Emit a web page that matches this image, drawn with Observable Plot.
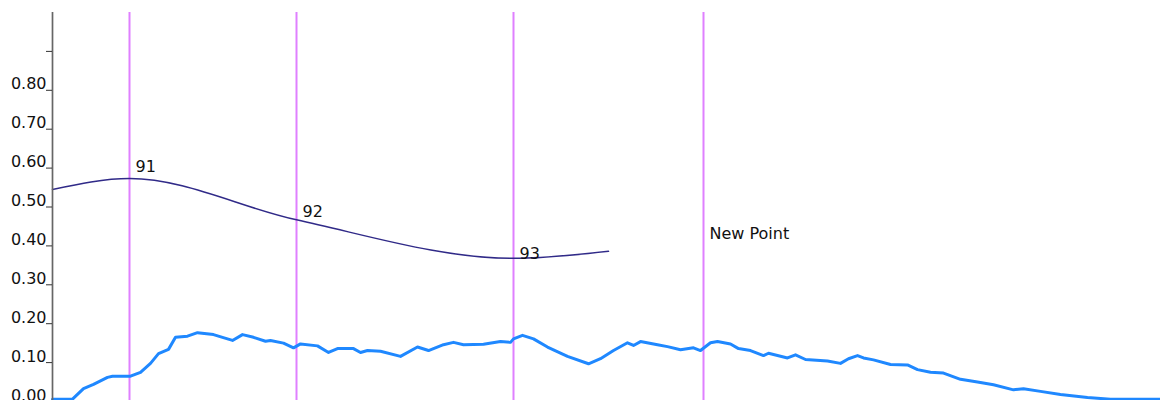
<!DOCTYPE html>
<html>
<head>
<meta charset="utf-8">
<script src="https://cdn.jsdelivr.net/npm/d3@7"></script>
<script src="https://cdn.jsdelivr.net/npm/@observablehq/plot@0.6"></script>
<style>
  html, body { margin: 0; padding: 0; background: #fff; }
  #chart svg { display: block; overflow: visible; }
</style>
</head>
<body>
<div id="chart"></div>
<script>
// Y axis ticks
const yTicks = [0, 0.1, 0.2, 0.3, 0.4, 0.5, 0.6, 0.7, 0.8, 0.9];
const yTickLabels = ["0.00", "0.10", "0.20", "0.30", "0.40", "0.50", "0.60", "0.70", "0.80", ""];

// Vertical markers (x positions)
const markerX = [77, 244, 461, 651];

// Fitted curve through labelled points
const curveX = [0, 77, 244, 461, 556];
const curveY = [0.545, 0.573, 0.467, 0.368, 0.386];

// Point labels
const labelText = ["91", "92", "93", "New Point"];
const labelX = [77, 244, 461, 651];
const labelY = [0.591, 0.474, 0.367, 0.418];

// Measured series
const seriesX = [0, 20, 31, 41, 55, 60, 78, 88, 98, 106, 116, 123, 135, 145, 161, 170, 180, 190, 201, 213,
  218, 231, 241, 248, 265, 276, 285, 301, 308, 315, 328, 348, 365, 376, 391, 401, 411, 431, 448, 458,
  461, 470, 481, 495, 515, 536, 548, 561, 575, 581, 588, 605, 615, 628, 641, 648, 658, 665, 678, 686,
  698, 711, 716, 735, 743, 753, 775, 788, 796, 805, 811, 821, 838, 855, 865, 878, 891, 908, 925, 941,
  961, 971, 988, 1008, 1035, 1058, 1108];
const seriesY = [0.006, 0.006, 0.033, 0.044, 0.062, 0.065, 0.065, 0.075, 0.098, 0.123, 0.134, 0.165, 0.168, 0.177, 0.172, 0.165, 0.157, 0.172, 0.165, 0.155,
  0.157, 0.150, 0.138, 0.148, 0.143, 0.126, 0.136, 0.136, 0.126, 0.131, 0.129, 0.116, 0.140, 0.131, 0.146, 0.152, 0.146, 0.147, 0.154, 0.152,
  0.161, 0.170, 0.161, 0.140, 0.116, 0.097, 0.110, 0.131, 0.151, 0.144, 0.154, 0.146, 0.141, 0.133, 0.138, 0.131, 0.151, 0.154, 0.148, 0.136,
  0.131, 0.118, 0.124, 0.112, 0.120, 0.108, 0.104, 0.098, 0.110, 0.118, 0.112, 0.107, 0.095, 0.094, 0.082, 0.075, 0.073, 0.057, 0.050, 0.043,
  0.030, 0.033, 0.026, 0.018, 0.010, 0.006, 0.006];

const series = seriesX.map((x, i) => ({x, y: seriesY[i]}));
const curve = curveX.map((x, i) => ({x, y: curveY[i]}));
const labels = labelText.map((t, i) => ({text: t, x: labelX[i], y: labelY[i]}));
const tickLabelMap = new Map(yTicks.map((t, i) => [t, yTickLabels[i]]));

const chart = Plot.plot({
  width: 1160,
  height: 400,
  marginLeft: 52,
  marginRight: 0,
  marginTop: 12,
  marginBottom: 0,
  style: {fontFamily: "DejaVu Sans", fontSize: "16px", background: "#fff", color: "#111"},
  x: {domain: [0, 1108], axis: null},
  y: {domain: [0, 1], range: [401, 12]},
  marks: [
    Plot.ruleX(markerX, {x: d => d, y1: 0, y2: 1, stroke: "#df80ff", strokeWidth: 2}),
    Plot.line(curve, {x: "x", y: "y", curve: "monotone-x", stroke: "#302a88", strokeWidth: 1.5}),
    Plot.line(series, {x: "x", y: "y", stroke: "#1f88ff", strokeWidth: 3, strokeLinejoin: "round"}),
    Plot.text(labels, {x: "x", y: "y", text: "text", textAnchor: "start", lineAnchor: "bottom", dx: 6, fontSize: 16, fill: "#111"}),
    Plot.ruleX([0], {y1: 0, y2: 1, stroke: "#666", strokeWidth: 1.7}),
    // tick marks (at the tick value)
    Plot.axisY({
      ticks: yTicks,
      tickSize: 6,
      tickFormat: () => "",
      stroke: "#333",
      label: null
    }),
    // tick labels sitting just above their ticks
    Plot.axisY({
      ticks: yTicks,
      tickSize: 0,
      tickPadding: 6,
      tickFormat: d => tickLabelMap.get(d) ?? "",
      fill: "#111",
      fontSize: 16,
      dy: -6,
      label: null
    })
  ]
});
document.getElementById("chart").appendChild(chart);
</script>
</body>
</html>
